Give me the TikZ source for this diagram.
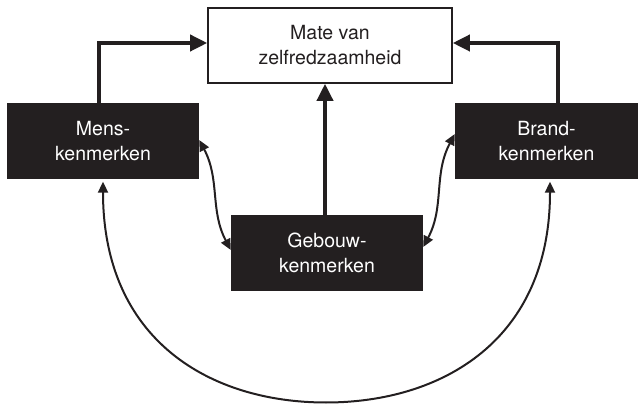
\documentclass[tikz,border=0pt]{standalone}
\usepackage{fontspec}
\setmainfont{TeX Gyre Heros}
\usetikzlibrary{arrows.meta,calc}
\definecolor{ink}{HTML}{231F20}
\begin{document}
\begin{tikzpicture}[x=1pt,y=1pt,
  box/.style={rectangle, inner sep=0pt, align=center, font=\fontsize{19.5}{25}\selectfont},
  darkbox/.style={box, fill=ink, text=white, minimum height=76pt},
  lightbox/.style={box, draw=ink, line width=1.6pt, fill=white, text=ink,
    minimum width=244pt, minimum height=75pt},
  mainarrow/.style={draw=ink, line width=3.6pt, -{Triangle[length=17pt,width=16pt]}},
  linkarrow/.style={draw=ink, line width=2pt,
    {Triangle[length=11pt,width=10pt]}-{Triangle[length=11pt,width=10pt]}}
]
\useasboundingbox (0,0) rectangle (639,404);

% boxes
\node[lightbox] (goal) at (330,358.5) {Mate van\\zelfredzaamheid};
\node[darkbox, minimum width=192pt] (mens) at (103,263) {Mens-\\kenmerken};
\node[darkbox, minimum width=183pt] (brand) at (546.5,263) {Brand-\\kenmerken};
\node[darkbox, minimum width=192pt] (geb) at (327,151) {Gebouw-\\kenmerken};

% influences on the outcome
\draw[mainarrow] ([xshift=-4pt]mens.north) |- ([yshift=2.5pt]goal.west);
\draw[mainarrow] ([xshift=11.5pt]brand.north) |- ([yshift=2.5pt]goal.east);
\draw[mainarrow] ([xshift=-2pt]geb.north) -- ([xshift=-2pt]geb.north |- goal.south);

% mutual relations
\draw[linkarrow] ([yshift=1pt]mens.east) to[out=-62,in=118] ([yshift=3pt]geb.west);
\draw[linkarrow] ([yshift=7pt]brand.west) to[out=-118,in=62] ([yshift=6pt]geb.east);

\coordinate (arcbottom) at (326,1.5);
\draw[linkarrow] ([yshift=-2.5pt]mens.south)
  .. controls ($(mens.south)+(0,-161)$) and (210,1.5) .. (arcbottom)
  .. controls (442,1.5) and ($(brand.south)+(3.5,-161)$) .. ([xshift=3.5pt,yshift=-2.5pt]brand.south);
\end{tikzpicture}
\end{document}
